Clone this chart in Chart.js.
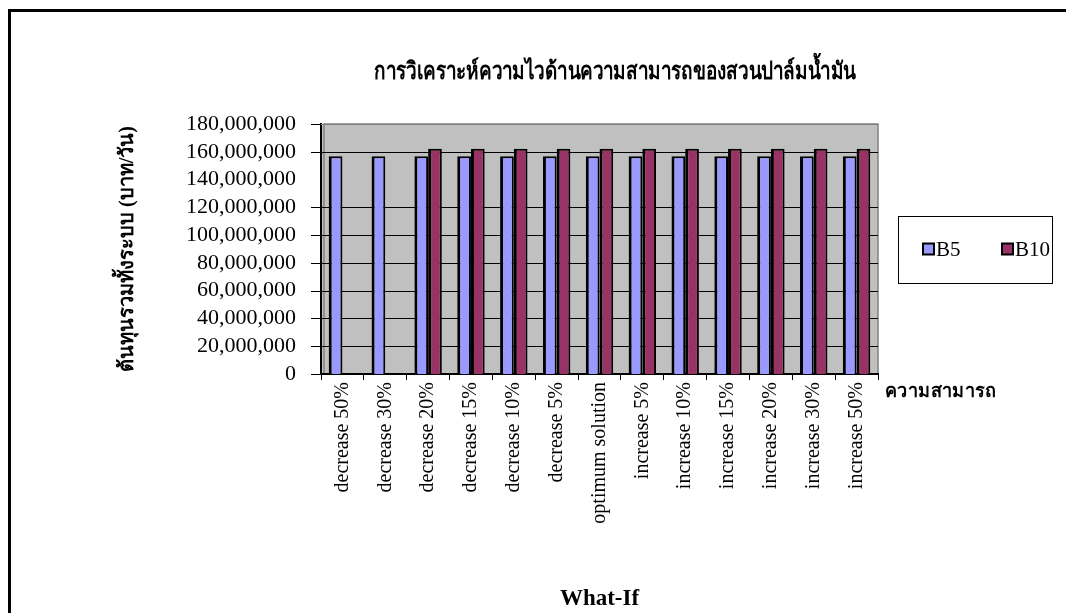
<!DOCTYPE html>
<html>
<head>
<meta charset="utf-8">
<script src="https://cdn.jsdelivr.net/npm/chart.js@4.4.1/dist/chart.umd.min.js"></script>
<style>
  html, body { margin: 0; padding: 0; background: #fff; }
  #wrap { position: relative; width: 1066px; height: 613px; }
</style>
</head>
<body>
<div id="wrap"><canvas id="c"></canvas></div>
<script>
// What-if scenarios on capacity
const categories = [
  'decrease 50%', 'decrease 30%', 'decrease 20%', 'decrease 15%', 'decrease 10%',
  'decrease 5%', 'optimum solution', 'increase 5%', 'increase 10%', 'increase 15%',
  'increase 20%', 'increase 30%', 'increase 50%'
];
// Total system cost (baht/day)
const seriesNames = ['B5', 'B10'];
const b5Values = [
  156800000, 156800000, 156800000, 156800000, 156800000, 156800000, 156800000,
  156800000, 156800000, 156800000, 156800000, 156800000, 156800000
];
const b10Values = [
  null, null, 162200000, 162200000, 162200000, 162200000, 162200000,
  162200000, 162200000, 162200000, 162200000, 162200000, 162200000
];
const yTicks = [0, 20000000, 40000000, 60000000, 80000000, 100000000, 120000000,
  140000000, 160000000, 180000000];
// value levels that get no gridline / tick mark
const yUnruled = [140000000];

const chartTitle = 'การวิเคราะห์ความไวด้านความสามารถของสวนปาล์มน้ำมัน';
const yTitle = 'ต้นทุนรวมทั้งระบบ (บาท/วัน)';
const xTitle = 'What-If';
const sideLabel = 'ความสามารถ';

const SERIF = "'Liberation Serif', 'DejaVu Serif', serif";

// Frame, plot wall, gridlines, title, side label and legend box
const decor = {
  id: 'decor',
  beforeDraw(chart) {
    const { ctx, chartArea: a } = chart;
    ctx.save();
    // outer frame
    ctx.fillStyle = '#000';
    ctx.fillRect(8, 9, 1066, 3);
    ctx.fillRect(8, 9, 3, 613);
    // plot wall
    ctx.fillStyle = '#c0c0c0';
    ctx.fillRect(a.left, a.top, a.right - a.left, a.bottom - a.top);
    ctx.strokeStyle = '#808080';
    ctx.lineWidth = 1.5;
    ctx.beginPath();
    ctx.moveTo(a.left + 3, a.bottom);
    ctx.lineTo(a.left + 3, a.top);
    ctx.lineTo(a.right, a.top);
    ctx.lineTo(a.right, a.bottom);
    ctx.stroke();
    ctx.restore();
  },
  beforeDatasetsDraw(chart) {
    const { ctx, chartArea: a, scales } = chart;
    const ys = scales.y;
    ctx.save();
    ctx.lineWidth = 1;
    yTicks.forEach(v => {
      if (yUnruled.includes(v)) return;
      const y = Math.round(ys.getPixelForValue(v)) + 0.5;
      // tick mark
      ctx.strokeStyle = '#000';
      ctx.beginPath();
      ctx.moveTo(a.left - 10, y);
      ctx.lineTo(a.left, y);
      ctx.stroke();
      // gridline (top edge of the wall is grey)
      if (v === 0) return;
      ctx.strokeStyle = v === ys.max ? '#808080' : '#000';
      ctx.beginPath();
      ctx.moveTo(a.left, y);
      ctx.lineTo(a.right, y);
      ctx.stroke();
    });
    ctx.restore();
  },
  afterDraw(chart) {
    const { ctx } = chart;
    ctx.save();
    ctx.fillStyle = '#000';
    ctx.textBaseline = 'middle';
    // chart title, set in a narrow face
    ctx.save();
    ctx.font = 'bold 24px ' + SERIF;
    ctx.textAlign = 'center';
    ctx.translate(615, 73);
    ctx.scale(0.79, 1);
    ctx.fillText(chartTitle, 0, 0);
    ctx.restore();
    // category axis caption at the right of the axis
    ctx.save();
    ctx.font = 'bold 19px ' + SERIF;
    ctx.textAlign = 'left';
    ctx.translate(885, 392);
    ctx.scale(0.95, 1);
    ctx.fillText(sideLabel, 0, 0);
    ctx.restore();
    // legend
    const bx = 898, by = 216, bw = 154, bh = 67;
    ctx.fillStyle = '#fff';
    ctx.fillRect(bx, by, bw, bh);
    ctx.strokeStyle = '#000';
    ctx.lineWidth = 1;
    ctx.strokeRect(bx + 0.5, by + 0.5, bw, bh);
    ctx.font = '21px ' + SERIF;
    ctx.textAlign = 'left';
    const itemX = [923, 1002];
    chart.data.datasets.forEach((ds, i) => {
      const x = itemX[i], y = by + bh / 2;
      ctx.fillStyle = ds.backgroundColor;
      ctx.fillRect(x, y - 6, 11, 11);
      ctx.lineWidth = 2;
      ctx.strokeStyle = '#000';
      ctx.strokeRect(x, y - 6, 11, 11);
      ctx.fillStyle = '#000';
      ctx.fillText(ds.label, x + 13, y + 1);
    });
    ctx.restore();
  }
};

const barBorder = { left: 3, top: 2, right: 2, bottom: 0 };

new Chart(document.getElementById('c'), {
  type: 'bar',
  data: {
    labels: categories,
    datasets: [
      { label: seriesNames[0], data: b5Values, backgroundColor: '#9999ff',
        borderColor: '#000', borderWidth: barBorder },
      { label: seriesNames[1], data: b10Values, backgroundColor: '#993366',
        borderColor: '#000', borderWidth: barBorder }
    ]
  },
  options: {
    responsive: true,
    maintainAspectRatio: false,
    animation: false,
    layout: { padding: { left: 112, right: 188, top: 124, bottom: 0 } },
    datasets: { bar: { categoryPercentage: 0.64, barPercentage: 1.0 } },
    plugins: {
      legend: { display: false },
      title: { display: false },
      tooltip: { enabled: false }
    },
    scales: {
      x: {
        offset: true,
        afterFit(scale) { scale.height = 239; },
        grid: {
          offset: true, drawOnChartArea: false, tickLength: 6,
          color: '#000', lineWidth: 1
        },
        border: { display: true, color: '#000', width: 2 },
        ticks: {
          autoSkip: false, minRotation: 90, maxRotation: 90, padding: 2,
          color: '#000', font: { family: SERIF, size: 20 }
        },
        title: {
          display: true, text: xTitle, color: '#000',
          font: { family: SERIF, size: 23, weight: 'bold' },
          padding: { top: 0, bottom: 0 }
        }
      },
      y: {
        min: 0, max: 180000000,
        afterFit(scale) { scale.width = 209; },
        afterBuildTicks(scale) { scale.ticks = yTicks.map(v => ({ value: v })); },
        grid: { display: false },
        border: { display: true, color: '#000', width: 2 },
        ticks: {
          autoSkip: false, padding: 17, color: '#000',
          font: { family: SERIF, size: 22 },
          callback: v => v.toLocaleString('en-US')
        },
        title: {
          display: true, text: yTitle, color: '#000',
          font: { family: SERIF, size: 20, weight: 'bold' },
          padding: { top: 4, bottom: 0 }
        }
      }
    }
  },
  plugins: [decor]
});
</script>
</body>
</html>
